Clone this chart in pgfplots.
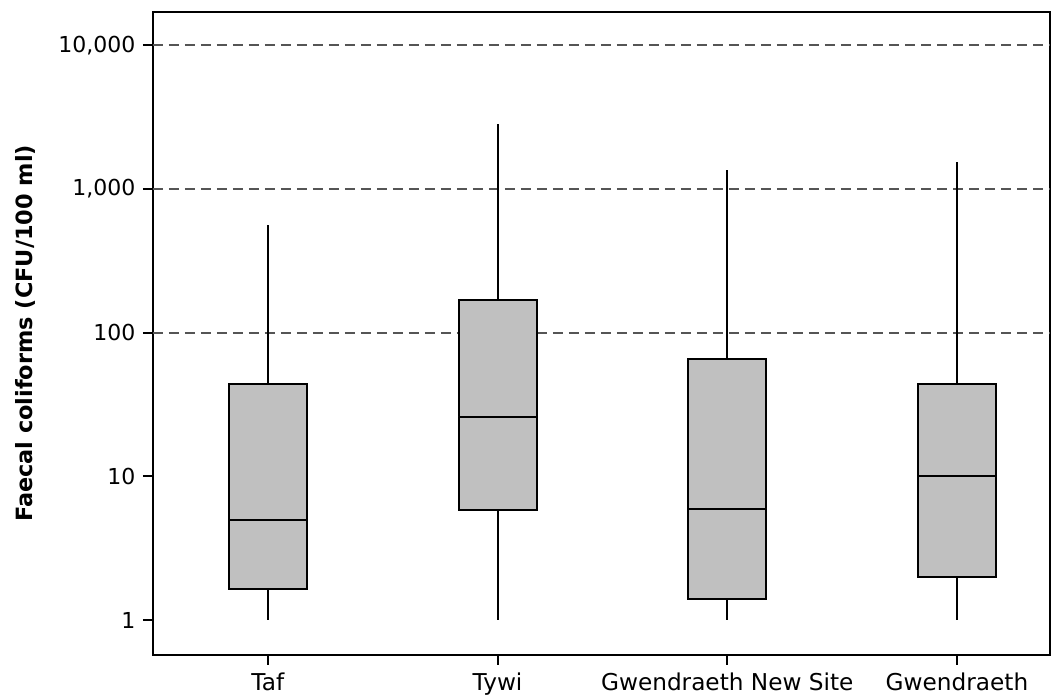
\documentclass[border=0pt]{standalone}
\usepackage{fontspec}
\setmainfont{DejaVu Sans}
\usepackage{pgfplots}
\pgfplotsset{compat=1.18}
\usepgfplotslibrary{statistics}

\definecolor{boxgray}{RGB}{192,192,192}
\definecolor{gridgray}{RGB}{85,85,85}

\begin{document}
\begin{tikzpicture}
\begin{axis}[
  scale only axis,
  width=448.5pt, height=321.5pt,
  ymode=log,
  ymin=0.571, ymax=17030,
  xmin=0.5, xmax=4.405,
  xtick={1,2,3,4},
  xticklabels={Taf,Tywi,Gwendraeth New Site,Gwendraeth},
  ytick={1,10,100,1000,10000},
  yticklabels={1,10,100,{1,000},{10,000}},
  yminorticks=false,
  tick pos=left,
  tick align=outside,
  major tick length=5pt,
  tick style={black, line width=1pt},
  line width=1pt,
  yticklabel style={font=\fontsize{11}{13}\selectfont},
  xticklabel style={font=\fontsize{11.6}{13}\selectfont},
  ylabel={Faecal coliforms (CFU/100 ml)},
  ylabel style={font=\fontsize{11.2}{13}\selectfont\bfseries,
    at={(axis description cs:-0.1427,0.5)}, anchor=center},
  extra y ticks={100,1000,10000},
  extra y tick labels={},
  extra y tick style={grid=major, major tick length=0pt,
    major grid style={gridgray, line width=0.9pt, dash pattern=on 5pt off 3pt}},
  boxplot/draw direction=y,
  boxplot/every whisker/.style={line width=1pt},
  boxplot/every median/.style={line width=1pt},
]
% Taf
\addplot[draw=black, fill=boxgray, line width=1pt,
  boxplot prepared={draw position=1, lower whisker=1, lower quartile=1.65,
    median=4.95, upper quartile=43.7, upper whisker=564,
    box extend=0.34, whisker extend=0}] coordinates {};
% Tywi
\addplot[draw=black, fill=boxgray, line width=1pt,
  boxplot prepared={draw position=2, lower whisker=1, lower quartile=5.8,
    median=26, upper quartile=168.6, upper whisker=2813,
    box extend=0.34, whisker extend=0}] coordinates {};
% Gwendraeth New Site
\addplot[draw=black, fill=boxgray, line width=1pt,
  boxplot prepared={draw position=3, lower whisker=1, lower quartile=1.41,
    median=5.95, upper quartile=65.8, upper whisker=1347,
    box extend=0.34, whisker extend=0}] coordinates {};
% Gwendraeth
\addplot[draw=black, fill=boxgray, line width=1pt,
  boxplot prepared={draw position=4, lower whisker=1, lower quartile=2.0,
    median=10, upper quartile=43.7, upper whisker=1531,
    box extend=0.34, whisker extend=0}] coordinates {};
\end{axis}
\pgfresetboundingbox
\path[use as bounding box] ([shift={(-76.5pt,-20pt)}]current axis.south west)
  rectangle ([shift={(6pt,6pt)}]current axis.north east);
\end{tikzpicture}
\end{document}
